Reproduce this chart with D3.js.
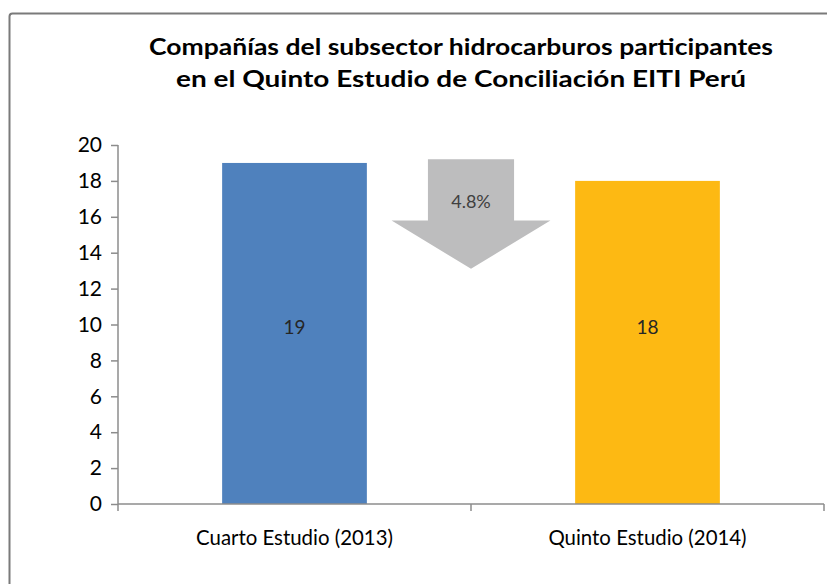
<!DOCTYPE html>
<html>
<head>
<meta charset="utf-8">
<script src="https://cdn.jsdelivr.net/npm/d3@7"></script>
<style>
  body { margin: 0; background: #fff; }
  svg { display: block; font-family: Lato, "Open Sans", sans-serif; }
</style>
</head>
<body>
<svg id="chart" width="827" height="584"></svg>
<script>
// data
var titleLines = ["Compañías del subsector hidrocarburos participantes",
                  "en el Quinto Estudio de Conciliación EITI Perú"];
var categories = ["Cuarto Estudio (2013)", "Quinto Estudio (2014)"];
var values = [19, 18];
var barColors = ["#4f81bd", "#fdb913"];
var yTicks = [0, 2, 4, 6, 8, 10, 12, 14, 16, 18, 20];
var changeLabel = "4.8%";
// arrow in value units: top, shoulder, tip
var arrowLevels = [19.2, 15.8, 13.1];

var svg = d3.select("#chart");

// frame (only top and left show)
svg.append("rect")
    .attr("x", 9.5).attr("y", 13.5)
    .attr("width", 840).attr("height", 600)
    .attr("rx", 3)
    .attr("fill", "none")
    .attr("stroke", "#7a7a7a")
    .attr("stroke-width", 2);

svg.append("g").selectAll("text")
  .data(titleLines)
  .enter().append("text")
    .attr("x", 461)
    .attr("y", function(d, i) { return 55 + i * 32; })
    .attr("text-anchor", "middle")
    .attr("font-weight", "bold")
    .attr("font-size", 23)
    .attr("fill", "#000")
    .attr("textLength", function(d, i) { return i === 0 ? 624 : 570; })
    .attr("lengthAdjust", "spacingAndGlyphs")
    .text(function(d) { return d; });

var x = d3.scaleBand()
    .domain(categories)
    .range([118, 824])
    .paddingInner(0.59)
    .paddingOuter(0.295);

var y = d3.scaleLinear()
    .domain([0, 20])
    .range([504, 145]);

// y axis
var yAxis = svg.append("g")
    .attr("transform", "translate(118,0)")
    .call(d3.axisLeft(y).tickValues(yTicks).tickSize(7).tickSizeOuter(0));
yAxis.select(".domain").remove();
yAxis.append("line")
    .attr("x1", 0).attr("x2", 0)
    .attr("y1", y(20)).attr("y2", y(0) + 7)
    .attr("stroke", "#8c8c8c").attr("stroke-width", 1.5);
yAxis.selectAll(".tick line").attr("stroke", "#8c8c8c").attr("stroke-width", 1.5);
yAxis.selectAll(".tick text")
    .attr("x", -16)
    .attr("font-size", 21)
    .attr("font-family", "Lato, sans-serif")
    .attr("fill", "#000");

// bars
svg.append("g").selectAll("rect")
  .data(values)
  .enter().append("rect")
    .attr("x", function(d, i) { return x(categories[i]); })
    .attr("y", function(d) { return y(d); })
    .attr("width", x.bandwidth())
    .attr("height", function(d) { return y(0) - y(d); })
    .attr("fill", function(d, i) { return barColors[i]; });

svg.append("g").selectAll("text")
  .data(values)
  .enter().append("text")
    .attr("x", function(d, i) { return x(categories[i]) + x.bandwidth() / 2; })
    .attr("y", y(9.5) + 0.5)
    .attr("text-anchor", "middle")
    .attr("font-size", 19)
    .attr("fill", "#262626")
    .text(function(d) { return d; });

// x axis
var xAxisY = y(0);
var xg = svg.append("g");
xg.append("line")
    .attr("x1", 118).attr("x2", 824)
    .attr("y1", xAxisY).attr("y2", xAxisY)
    .attr("stroke", "#8c8c8c").attr("stroke-width", 1.5);
var bounds = [118, x(categories[0]) + x.bandwidth() / 2 + x.step() / 2, 824];
xg.selectAll(".xt")
  .data(bounds.slice(1))
  .enter().append("line")
    .attr("x1", function(d) { return d; }).attr("x2", function(d) { return d; })
    .attr("y1", xAxisY).attr("y2", xAxisY + 7)
    .attr("stroke", "#8c8c8c").attr("stroke-width", 1.5);
xg.selectAll("text")
  .data(categories)
  .enter().append("text")
    .attr("x", function(d) { return x(d) + x.bandwidth() / 2; })
    .attr("y", 545)
    .attr("text-anchor", "middle")
    .attr("font-size", 20.4)
    .attr("fill", "#000")
    .text(function(d) { return d; });

// change arrow between bars
var cx = bounds[1];
var bodyHalf = x.step() * 0.122, headHalf = x.step() * 0.225;
var pts = [
  [cx - bodyHalf, y(arrowLevels[0])], [cx + bodyHalf, y(arrowLevels[0])],
  [cx + bodyHalf, y(arrowLevels[1])], [cx + headHalf, y(arrowLevels[1])],
  [cx, y(arrowLevels[2])],
  [cx - headHalf, y(arrowLevels[1])], [cx - bodyHalf, y(arrowLevels[1])]
];
svg.append("path")
    .attr("d", d3.line()(pts) + "Z")
    .attr("fill", "#bdbdbe");
svg.append("text")
    .attr("x", cx)
    .attr("y", 208)
    .attr("text-anchor", "middle")
    .attr("font-size", 18)
    .attr("fill", "#404040")
    .text(changeLabel);
</script>
</body>
</html>
